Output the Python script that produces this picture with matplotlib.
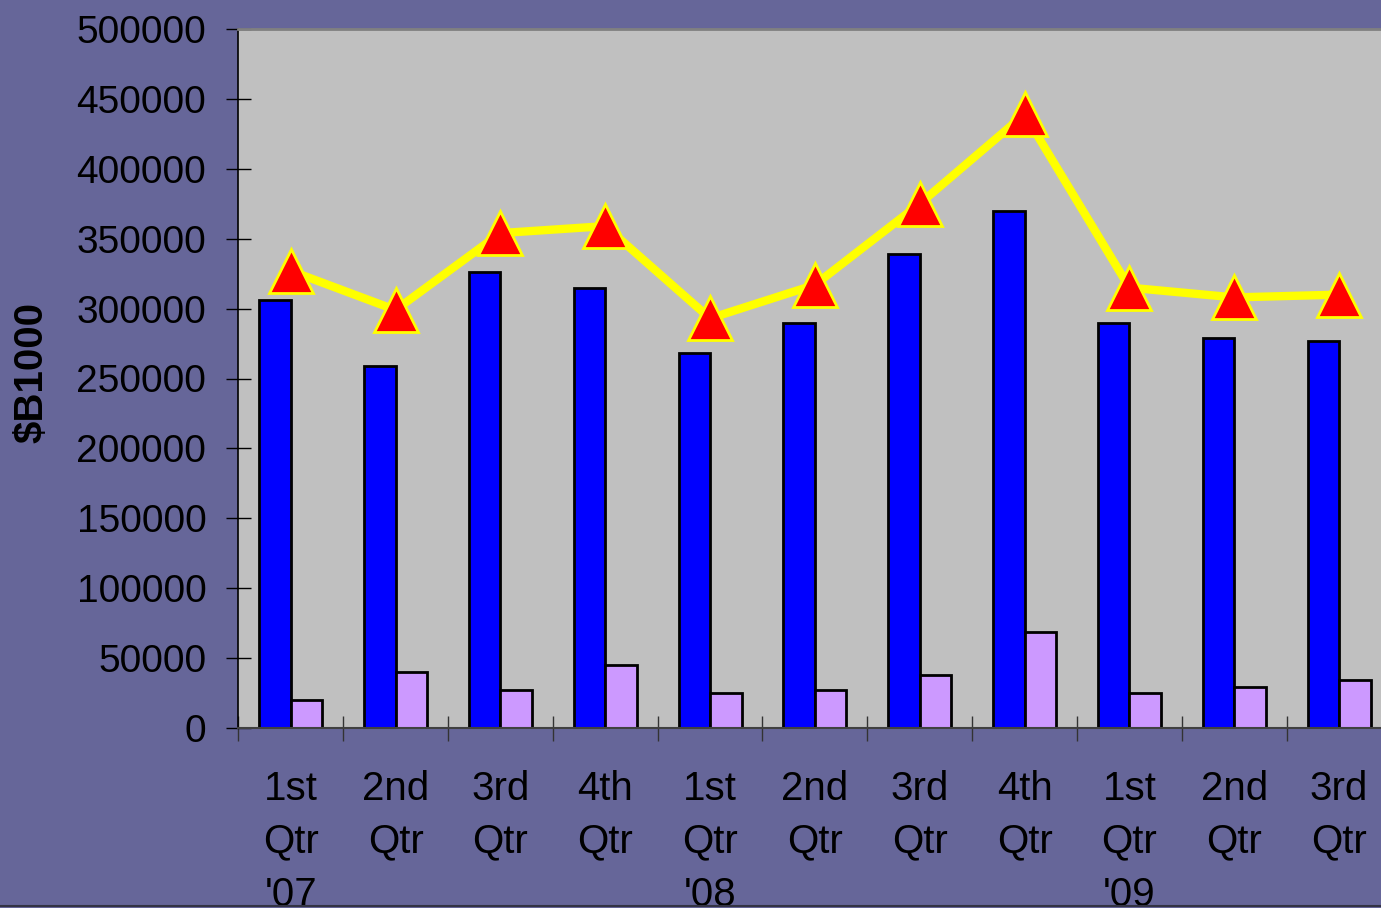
import numpy as np
import matplotlib
matplotlib.use("Agg")
import matplotlib.pyplot as plt
from matplotlib.lines import Line2D

plt.rcParams['font.family'] = ['Liberation Sans', 'DejaVu Sans']

# quarterly data, $B1000
quarters = ["1st\nQtr\n'07", "2nd\nQtr", "3rd\nQtr", "4th\nQtr",
            "1st\nQtr\n'08", "2nd\nQtr", "3rd\nQtr", "4th\nQtr",
            "1st\nQtr\n'09", "2nd\nQtr", "3rd\nQtr"]
blue_vals = [306000, 259000, 326000, 315000, 268000, 290000, 339000, 370000, 290000, 279000, 277000]
purple_vals = [20000, 40000, 27000, 45000, 25000, 27000, 38000, 69000, 25000, 29000, 34000]
total_vals = [327000, 299000, 354000, 359000, 293000, 317000, 375000, 439000, 315000, 308000, 310000]

fig = plt.figure(figsize=(13.81, 9.08), dpi=100)
fig.patch.set_facecolor('#666699')

ax = fig.add_axes([238.3 / 1381, 1 - 728 / 908, (1391.5 - 238.3) / 1381, 699 / 908])
ax.set_facecolor('#C0C0C0')

x = np.arange(len(quarters))
w = 0.3
ax.bar(x - w / 2, blue_vals, width=w, color='#0000FF', edgecolor='black', linewidth=2, zorder=2)
ax.bar(x + w / 2, purple_vals, width=w, color='#CC99FF', edgecolor='black', linewidth=2, zorder=2)
ax.plot(x, total_vals, color='#FFFF00', linewidth=6, marker='^', markersize=31,
        markerfacecolor='#FF0000', markeredgecolor='#FFFF00', markeredgewidth=2, zorder=3,
        clip_on=False)

ax.set_xlim(-0.5, len(quarters) - 0.5)
ax.set_ylim(0, 500000)
ax.set_yticks(np.arange(0, 500001, 50000))
ax.tick_params(axis='y', direction='inout', length=18, width=1, pad=14, labelsize=28, colors='black')

# ticks between categories, labels at centres
ax.set_xticks(np.arange(-0.5, len(quarters), 1))
ax.set_xticklabels([])
ax.set_xticks(x, minor=True)
ax.set_xticklabels(quarters, minor=True, fontsize=29, linespacing=1.5)
ax.tick_params(axis='x', which='major', direction='inout', length=18, width=1, color='#333333')
ax.tick_params(axis='x', which='minor', length=0, pad=30)

ax.spines['left'].set_color('black')
ax.spines['left'].set_linewidth(1.2)
ax.spines['bottom'].set_color('#404040')
ax.spines['bottom'].set_linewidth(1.5)
ax.spines['top'].set_color('#808080')
ax.spines['top'].set_linewidth(2)
ax.spines['right'].set_visible(False)

fig.text(32 / 1381, 1 - 372 / 908, '$B1000', rotation=90, fontsize=29, fontweight='bold',
         ha='center', va='center')

fig.add_artist(Line2D([0, 1], [1 - 905.5 / 908, 1 - 905.5 / 908], color='#333344', linewidth=1.5))

fig.savefig('out.png', dpi=100, facecolor=fig.get_facecolor())
